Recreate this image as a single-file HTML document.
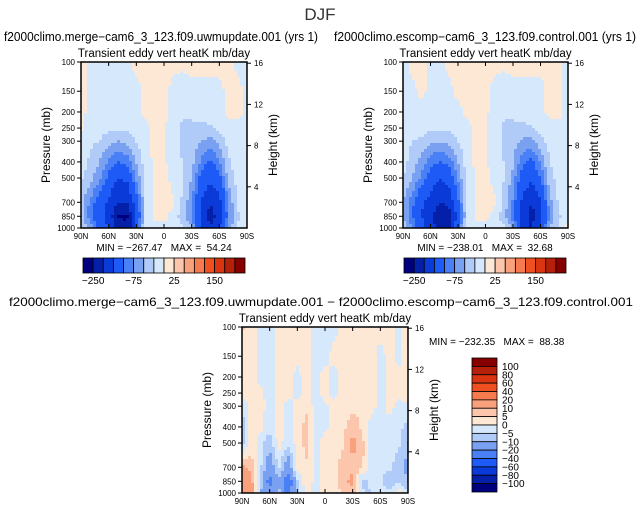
<!DOCTYPE html>
<html><head><meta charset="utf-8">
<style>
html,body{margin:0;padding:0;background:#fff;}
svg{display:block;font-family:"Liberation Sans",sans-serif;}
.pre{white-space:pre;}
</style></head>
<body>
<svg id="s" width="641" height="513" viewBox="0 0 641 513" xmlns="http://www.w3.org/2000/svg">
<text x="320" y="20" font-size="17" text-anchor="middle" fill="#333">DJF</text>
</svg>
<script>
// ---- data ----
var lats = ["90N","80N","70N","60N","50N","40N","30N","20N","10N","0","10S","20S","30S","40S","50S","60S","70S","80S","90S"];
var levels = [1000,850,700,500,400,300,250,200,150,100];
var fieldA = [
[-20,-60,-120,-150,-230,-240,-120,-10,-10,-10,-10,-20,-40,-150,-200,-150,-60,-20,10],
[-40,-90,-130,-170,-250,-260,-150,-20,5,10,-10,-40,-80,-160,-220,-180,-80,-30,-10],
[-40,-80,-120,-160,-200,-200,-120,-20,5,10,5,-30,-70,-150,-200,-170,-70,-20,-10],
[-20,-40,-70,-110,-150,-140,-70,-15,5,10,-10,-20,-50,-110,-140,-110,-40,-15,-5],
[-10,-30,-50,-80,-100,-90,-50,-10,5,5,-15,-25,-40,-80,-110,-80,-30,-10,-5],
[-5,-20,-25,-40,-50,-40,-25,-5,5,5,-15,-30,-35,-50,-60,-40,-15,-5,-5],
[5,-10,-15,-20,-20,-20,-10,-5,5,5,-15,-30,-30,-30,-30,-20,-10,-5,-5],
[5,-5,-5,-10,-10,-10,-5,5,5,5,-10,-20,-20,-15,-10,-5,5,5,-5],
[5,-5,-5,-5,-5,-5,-5,5,5,5,-5,-10,-5,-5,-5,-5,5,5,-5],
[5,-5,-5,-5,-5,-5,5,5,5,5,5,5,5,5,5,5,5,-5,-5]];
var fieldB = [
[-30,-70,-130,-170,-230,-220,-100,-10,-10,-10,-10,-20,-50,-160,-200,-140,-50,-20,10],
[-50,-100,-150,-190,-238,-230,-130,-20,5,10,-10,-40,-90,-170,-220,-170,-70,-30,-10],
[-50,-90,-140,-170,-200,-190,-110,-20,5,10,5,-30,-80,-160,-200,-160,-60,-20,-10],
[-25,-50,-80,-120,-150,-130,-70,-15,5,10,-10,-25,-60,-120,-140,-100,-35,-15,-5],
[-15,-35,-60,-90,-100,-90,-50,-10,5,5,-15,-25,-45,-90,-110,-70,-25,-10,-5],
[-10,-25,-30,-45,-50,-40,-25,-5,5,5,-15,-30,-40,-55,-60,-35,-15,-5,-5],
[-5,-15,-15,-20,-20,-20,-10,-5,5,5,-15,-30,-30,-30,-30,-15,-10,-5,-5],
[-5,-5,-5,-10,-10,-5,-5,5,5,5,-10,-20,-20,-15,-10,-5,5,5,-5],
[-5,-5,5,-5,-5,-5,5,5,5,5,-5,-10,-5,-5,-5,-5,5,5,-5],
[-5,5,5,-5,-5,5,5,5,5,5,5,5,5,5,5,5,5,5,-5]];
var fieldD = [
[12,15,-10,-15,-8,-25,-6,2,-2,2,2,6,8,-4,-6,-2,-4,3,-6],
[15,12,-6,-25,-10,-30,-6,4,-2,2,4,8,12,-8,-3,-4,-8,-6,-10],
[12,8,-4,-15,-4,-15,2,4,-2,2,3,8,9,6,-2,-4,-4,-8,-12],
[-8,3,-3,-8,2,-4,2,7,-2,2,2,4,12,7,-2,-4,-2,-4,-10],
[-8,2,2,-4,4,-2,2,7,-2,-1,2,4,8,4,-2,-2,-2,-4,-6],
[-4,2,2,-2,2,-2,2,4,-2,-1,2,2,4,4,2,-2,2,-2,-2],
[2,2,2,-3,2,2,-2,2,-2,2,-2,2,2,2,2,-2,2,2,4],
[2,2,-2,-4,2,2,-2,3,-2,2,-2,2,2,2,2,-2,2,2,4],
[2,2,-2,-4,2,2,2,2,-2,-2,2,2,2,2,2,-2,2,-2,4],
[6,2,-2,-4,2,2,2,2,-2,-2,-2,2,2,2,2,2,2,-2,6]];
var levA = [-250,-200,-150,-100,-75,-50,-25,0,25,50,75,100,150,200,250];
var levD = [-100,-80,-60,-40,-20,-10,-5,0,5,10,20,40,60,80,100];
var cbLabelsA = ["-250","-75","25","150"];
var cbLabelIdxA = [0,4,8,12];
var cbLabelsD = ["100","80","60","40","20","10","5","0","-5","-10","-20","-40","-60","-80","-100"];
var latTicks = ["90N","60N","30N","0","30S","60S","90S"];
var presTicks = [1000,850,700,500,400,300,250,200,150,100];
var htTicks = [4,8,12,16];
var colors = ["#00007f","#0520a8","#0a3ad8","#1e5af5","#4a80f5","#7aa0f2","#b0cbf8","#d6e8fb","#fde8d6","#fcc6ad","#f9a07c","#f57b4f","#ee5020","#d83510","#b4200a","#870000"];

var NS="http://www.w3.org/2000/svg", svg=document.getElementById('s');
function mk(tag, attrs, parent){var e=document.createElementNS(NS,tag);for(var k in attrs)e.setAttribute(k,attrs[k]);(parent||svg).appendChild(e);return e;}
function txt(x,y,s,size,anchor,parent,extra){var t=mk('text',Object.assign({x:x,y:y,'font-size':size,'text-anchor':anchor||'start',fill:'#000'},extra||{}),parent);t.textContent=s;return t;}
function colorFor(v,lev){var i=0;while(i<lev.length&&v>=lev[i])i++;return colors[i];}

function panel(name, x0, y0, w, h, field, lev, title, minmax, minmaxPos){
  var g=mk('g',{});
  
  
  var lp0=Math.log(1000), lp1=Math.log(100);
  function xOf(i){return x0 + i/(lats.length-1)*w;}
  function yOfP(p){return y0 + (Math.log(p)-lp1)/(lp0-lp1)*h;}
  var lpl=levels.map(function(p){return Math.log(p);});
  function sample(fx, lp){
    var j=0; while(j<levels.length-2 && lp<lpl[j+1]) j++;
    var t=(lpl[j]-lp)/(lpl[j]-lpl[j+1]); t=Math.max(0,Math.min(1,t));
    var i=Math.min(Math.floor(fx),lats.length-2), s=fx-i;
    var a=field[j][i]*(1-s)+field[j][i+1]*s, b=field[j+1][i]*(1-s)+field[j+1][i+1]*s;
    return a*(1-t)+b*t;
  }
  var cells=mk('g',{'shape-rendering':'crispEdges'},g);
  
  
  var step=3;
  for(var py=0; py<h; py+=step){
    for(var px=0; px<w; px+=step){
      var fx=(px+step/2)/w*(lats.length-1);
      var lp=lp1+(py+step/2)/h*(lp0-lp1);
      var v=sample(fx,lp);
      var r=mk('rect',{x:x0+px,y:y0+py,width:Math.min(step,w-px),height:Math.min(step,h-py),fill:colorFor(v,lev)},cells);
      
      
    }
  }
  mk('rect',{x:x0,y:y0,width:w,height:h,fill:'none',stroke:'#000','stroke-width':1.5},g);
  var st=txt(x0+w/2,y0-5,'Transient eddy vert heatK mb/day',11.5,'middle',g);
  
  
  latTicks.forEach(function(l){
    var i=lats.indexOf(l), x=xOf(i);
    mk('line',{x1:x,x2:x,y1:y0+h,y2:y0+h-4,stroke:'#000'},g);
    mk('line',{x1:x,x2:x,y1:y0,y2:y0+4,stroke:'#000'},g);
    var t=txt(x,y0+h+11,l,8,'middle',g);
    
    
  });
  presTicks.forEach(function(p){
    var y=yOfP(p);
    mk('line',{x1:x0-4,x2:x0,y1:y,y2:y,stroke:'#000'},g);
    var t=txt(x0-6,y+3,String(p),8,'end',g);
    
    
  });
  htTicks.forEach(function(z){
    var p=1000*Math.exp(-z/7); var y=yOfP(p);
    mk('line',{x1:x0+w,x2:x0+w+4,y1:y,y2:y,stroke:'#000'},g);
    var t=txt(x0+w+7,y+3,String(z),8,'start',g);
    
    
  });
  var yl=txt(0,0,'Pressure (mb)',12,'middle',g,{transform:'translate('+(x0-31)+','+(y0+h/2)+') rotate(-90)'});
  
  
  var hl=txt(0,0,'Height (km)',12,'middle',g,{transform:'translate('+(x0+w+30)+','+(y0+h/2)+') rotate(-90)'});
  
  
  var mm=txt(minmaxPos[0],minmaxPos[1],minmax,10,minmaxPos[2],g,{'class':'pre'});
  
  
}

function hbar(name,x0,y0,w,h){
  var g=mk('g',{});
  
  
  var bw=w/colors.length;
  colors.forEach(function(c,i){
    var r=mk('rect',{x:x0+i*bw,y:y0,width:bw,height:h,fill:c,stroke:'#000','stroke-width':0.8},g);
    
    
  });
  cbLabelsA.forEach(function(l,k){
    var t=txt(x0+(cbLabelIdxA[k]+1)*bw,y0+h+11,l.replace('-','\u2212'),10,'middle',g);
    
    
  });
}

function vbar(name,x0,y0,w,h){
  var g=mk('g',{});
  
  
  var bh=h/colors.length;
  colors.slice().reverse().forEach(function(c,i){
    var r=mk('rect',{x:x0,y:y0+i*bh,width:w,height:bh,fill:c,stroke:'#000','stroke-width':0.8},g);
    
    
  });
  cbLabelsD.forEach(function(l,k){
    var t=txt(x0+w+5,y0+(k+1)*bh+3.5,l.replace('-','\u2212'),10,'start',g);
    
    
  });
}

var t1=txt(4,41,'f2000climo.merge\u2212cam6_3_123.f09.uwmupdate.001 (yrs 1)',12.5,'start',null,{textLength:314,lengthAdjust:'spacingAndGlyphs'});


var t2=txt(334,41,'f2000climo.escomp\u2212cam6_3_123.f09.control.001 (yrs 1)',12.5,'start',null,{textLength:302,lengthAdjust:'spacingAndGlyphs'});


var t3=txt(321,306,'f2000climo.merge\u2212cam6_3_123.f09.uwmupdate.001 \u2212 f2000climo.escomp\u2212cam6_3_123.f09.control.001',12,'middle',null,{textLength:624,lengthAdjust:'spacingAndGlyphs'});



panel('panel-uwmupdate',81,62,166,166,fieldA,levA,'', 'MIN = \u2212267.47   MAX =  54.24',[164,251,'middle']);
panel('panel-control',403,62,165,166,fieldB,levA,'', 'MIN = \u2212238.01   MAX =  32.68',[485,251,'middle']);
panel('panel-difference',242,327,166,166,fieldD,levD,'', 'MIN = \u2212232.35   MAX =  88.38',[429,345,'start']);
hbar('colorbar-top-left',83,258,162,15);
hbar('colorbar-top-right',404,258,162,15);
vbar('colorbar-difference',472,358,25,134);
</script>
</body></html>
